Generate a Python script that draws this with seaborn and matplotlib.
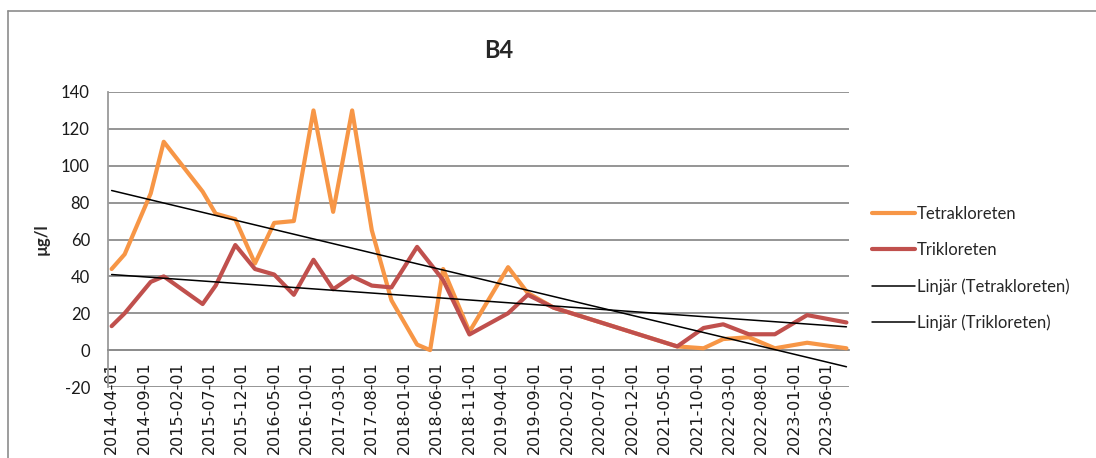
import numpy as np
import pandas as pd
import matplotlib
matplotlib.use("Agg")
import matplotlib.pyplot as plt
import matplotlib.dates as mdates
from matplotlib.lines import Line2D
import seaborn as sns

# Sampling dates and measured concentrations (µg/l)
dates = ["2014-04-01", "2014-06-01", "2014-10-01", "2014-12-01", "2015-06-01",
         "2015-08-01", "2015-11-01", "2016-02-01", "2016-05-01", "2016-08-01",
         "2016-11-01", "2017-02-01", "2017-05-01", "2017-08-01", "2017-11-01",
         "2018-03-01", "2018-05-01", "2018-07-01", "2018-11-01", "2019-05-01",
         "2019-08-01", "2019-12-01", "2021-07-01", "2021-11-01", "2022-02-01",
         "2022-06-01", "2022-10-01", "2023-03-01", "2023-09-01"]
tetrakloreten = [44, 52, 85, 113, 86, 74, 71, 47, 69, 70,
                 130, 75, 130, 65, 27, 3, 0, 44, 10, 45,
                 31, 23, 2, 1, 6, 7, 1, 4, 1]
trikloreten = [13, 20, 37, 40, 25, 35, 57, 44, 41, 30,
               49, 33, 40, 35, 34, 56, 47, 38, 8.5, 20,
               30, 23, 2, 12, 14, 8.6, 8.6, 19, 15]

series_names = ["Tetrakloreten", "Trikloreten"]
trend_names = ["Linjär (Tetrakloreten)", "Linjär (Trikloreten)"]
colors = ["#F79646", "#C0504D"]

tick_labels = ["2014-04-01", "2014-09-01", "2015-02-01", "2015-07-01", "2015-12-01",
               "2016-05-01", "2016-10-01", "2017-03-01", "2017-08-01", "2018-01-01",
               "2018-06-01", "2018-11-01", "2019-04-01", "2019-09-01", "2020-02-01",
               "2020-07-01", "2020-12-01", "2021-05-01", "2021-10-01", "2022-03-01",
               "2022-08-01", "2023-01-01", "2023-06-01"]
y_ticks = list(range(-20, 141, 20))

sns.set_theme(style="white")
plt.rcParams["font.family"] = ["Lato", "DejaVu Sans"]

xnum = mdates.date2num(pd.to_datetime(dates))
df = pd.DataFrame({
    "datum": np.concatenate([xnum, xnum]),
    "halt": tetrakloreten + trikloreten,
    "ämne": [series_names[0]] * len(dates) + [series_names[1]] * len(dates),
})

W, H = 1096, 458
fig = plt.figure(figsize=(W / 100, H / 100), dpi=100)
ax = fig.add_axes([108 / W, 1 - 387 / H, (849 - 108) / W, (387 - 92) / H])

grid_c = "#8c8c8c"
for yv in y_ticks:
    ax.axhline(yv, color=grid_c, lw=1.3, zorder=0)

sns.lineplot(data=df, x="datum", y="halt", hue="ämne", palette=colors,
             estimator=None, lw=3.0, ax=ax, legend=False, zorder=3)

# linear trend lines fitted against the date
for vals in (tetrakloreten, trikloreten):
    sns.regplot(x=xnum, y=np.array(vals, dtype=float), scatter=False, ci=None,
                truncate=True, color="black", line_kws={"lw": 1.1, "zorder": 4},
                ax=ax)

x0 = mdates.date2num(pd.Timestamp("2014-03-15"))
ax.set_xlim(x0, x0 + 3469)
ax.set_ylim(-20, 140)

# spines and tick geometry first: both rebuild the tick objects
for side in ("top", "right"):
    ax.spines[side].set_visible(False)
ax.spines["bottom"].set_position(("data", 0))
ax.spines["bottom"].set_color(grid_c)
ax.spines["bottom"].set_linewidth(1.3)
ax.spines["left"].set_color("#9a9a9a")
ax.spines["left"].set_linewidth(1.3)
ax.tick_params(axis="both", length=0)
ax.tick_params(axis="y", pad=13)
ax.tick_params(axis="x", pad=8)

ax.set_yticks(y_ticks)
ax.set_yticklabels([str(v) for v in y_ticks], fontsize=12, color="#1a1a1a")
ax.set_xticks(mdates.date2num(pd.to_datetime(tick_labels)))
ax.set_xticklabels(tick_labels, rotation=90, fontsize=11.5, color="#1a1a1a",
                   family="DejaVu Sans", ha="center", va="top")

ax.set_xlabel("")
ax.set_ylabel("µg/l", fontsize=12, fontweight="bold", labelpad=8)

fig.text(499 / W, 1 - 50 / H, "B4", ha="center", va="center",
         fontsize=17, fontweight="bold")

handles = [Line2D([], [], color=colors[0], lw=3.0),
           Line2D([], [], color=colors[1], lw=3.0),
           Line2D([], [], color="black", lw=1.1),
           Line2D([], [], color="black", lw=1.1)]
fig.legend(handles, series_names + trend_names, loc="upper left",
           bbox_to_anchor=(872 / W, 1 - 206 / H), frameon=False, fontsize=12,
           handlelength=2.6, handletextpad=0.1, labelspacing=1.2,
           borderaxespad=0, borderpad=0)

# chart area border
fig.add_artist(Line2D([8 / W, 1], [1 - 11 / H, 1 - 11 / H],
                      transform=fig.transFigure, color=grid_c, lw=1.2))
fig.add_artist(Line2D([8 / W, 8 / W], [0, 1 - 11 / H],
                      transform=fig.transFigure, color=grid_c, lw=1.2))

fig.savefig("out.png", dpi=100)
